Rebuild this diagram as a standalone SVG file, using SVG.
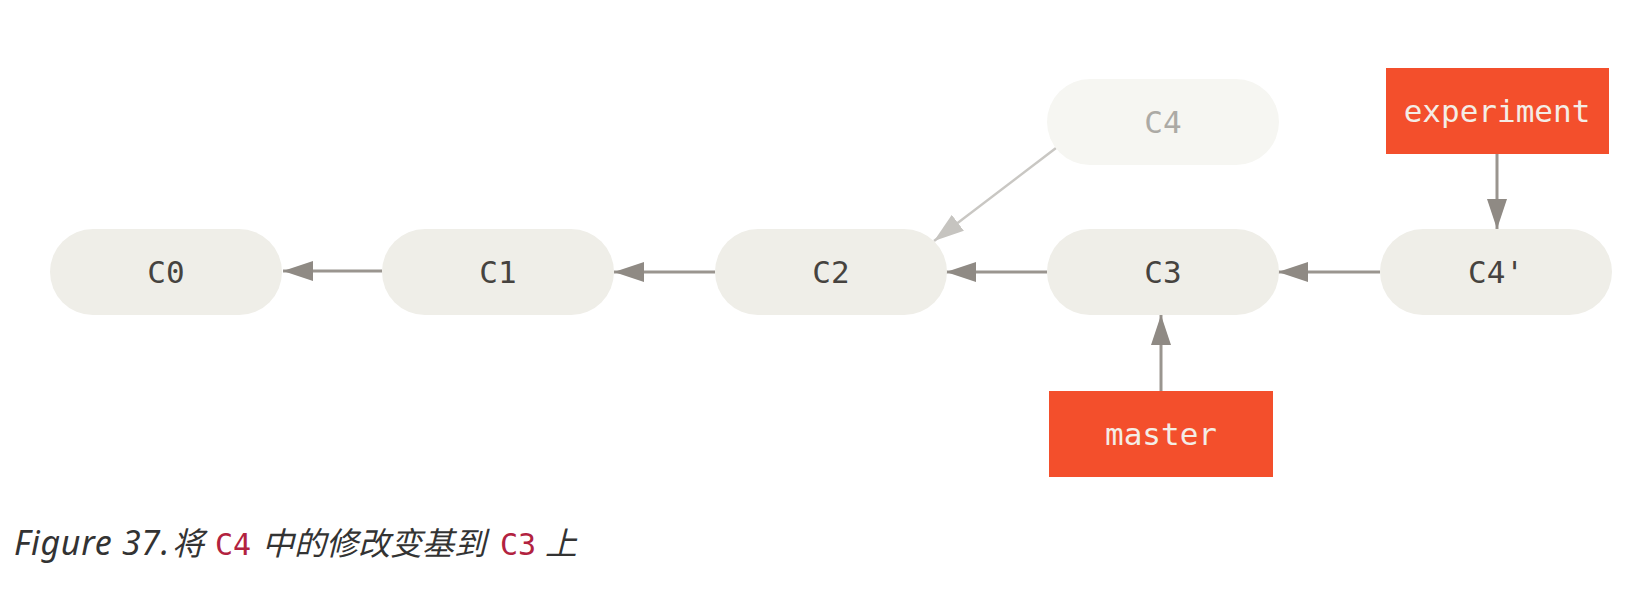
<svg xmlns="http://www.w3.org/2000/svg" width="1644" height="598" viewBox="0 0 1644 598">
<style>
.pill{fill:#efeee8}
.pill-ghost{fill:#f6f6f2}
.lbl{font-family:"DejaVu Sans Mono","Liberation Mono",monospace;font-size:31px;fill:#46433f;text-anchor:middle;dominant-baseline:central}
.ghost{fill:#acaaa5}
.ref{fill:#f34f2c}
.reflbl{font-family:"DejaVu Sans Mono","Liberation Mono",monospace;font-size:31px;fill:#f3ede6;text-anchor:middle;dominant-baseline:central}
.edge{stroke:#9a958f;stroke-width:3;fill:none}
.edge-ghost{stroke:#c9c7c3;stroke-width:2.5;fill:none}
.cap{font-family:"Noto Sans","Noto Sans CJK SC",sans-serif;font-size:34px;font-style:italic;fill:#333333}
.cjk{font-family:"Noto Sans CJK SC",sans-serif;font-size:32px;letter-spacing:0}
.code{font-family:"DejaVu Sans Mono","Noto Sans CJK SC",monospace;fill:#b2223f;font-style:normal;font-size:30px;letter-spacing:0}
</style>
<defs>
<marker id="ah" viewBox="0 0 30 20" refX="30" refY="10" markerWidth="30" markerHeight="20" markerUnits="userSpaceOnUse" orient="auto">
<path d="M0,0 L30,10 L0,20 z" fill="#8f8a84"/>
</marker>
<marker id="ahg" viewBox="0 0 30 20" refX="30" refY="10" markerWidth="30" markerHeight="20" markerUnits="userSpaceOnUse" orient="auto">
<path d="M0,0 L30,10 L0,20 z" fill="#c6c4c0"/>
</marker>
</defs>
<rect width="1644" height="598" fill="#ffffff"/>
<g id="connectors">
<line class="edge" x1="382" y1="271" x2="283" y2="271" marker-end="url(#ah)"/>
<line class="edge" x1="715" y1="272" x2="614" y2="272" marker-end="url(#ah)"/>
<line class="edge" x1="1047" y1="272" x2="946" y2="272" marker-end="url(#ah)"/>
<line class="edge" x1="1380" y1="272" x2="1278" y2="272" marker-end="url(#ah)"/>
<line class="edge-ghost" x1="1056" y1="148" x2="934" y2="241" marker-end="url(#ahg)"/>
<line class="edge" x1="1497" y1="154" x2="1497" y2="229" marker-end="url(#ah)"/>
<line class="edge" x1="1161" y1="391" x2="1161" y2="315" marker-end="url(#ah)"/>
</g>
<g id="C0"><rect class="pill" x="50" y="229" width="232" height="86" rx="43"/><text class="lbl" x="166" y="272">C0</text></g>
<g id="C1"><rect class="pill" x="382" y="229" width="232" height="86" rx="43"/><text class="lbl" x="498" y="272">C1</text></g>
<g id="C2"><rect class="pill" x="715" y="229" width="232" height="86" rx="43"/><text class="lbl" x="831" y="272">C2</text></g>
<g id="C3"><rect class="pill" x="1047" y="229" width="232" height="86" rx="43"/><text class="lbl" x="1163" y="272">C3</text></g>
<g id="C4p"><rect class="pill" x="1380" y="229" width="232" height="86" rx="43"/><text class="lbl" x="1496" y="272">C4'</text></g>
<g id="C4"><rect class="pill-ghost" x="1047" y="79" width="232" height="86" rx="43"/><text class="lbl ghost" x="1163" y="122">C4</text></g>
<g id="experiment"><rect class="ref" x="1386" y="68" width="223" height="86"/><text class="reflbl" x="1497" y="111">experiment</text></g>
<g id="master"><rect class="ref" x="1049" y="391" width="224" height="86"/><text class="reflbl" x="1161" y="434">master</text></g>
<g id="caption">
<text class="cap" x="14" y="555" letter-spacing="0.7">Figure 37.<tspan class="cjk" x="172">将</tspan><tspan class="code" x="215">C4</tspan><tspan class="cjk" x="262">中的修改变基到</tspan><tspan class="code" x="500">C3</tspan><tspan class="cjk" x="545">上</tspan></text>
</g>
</svg>
